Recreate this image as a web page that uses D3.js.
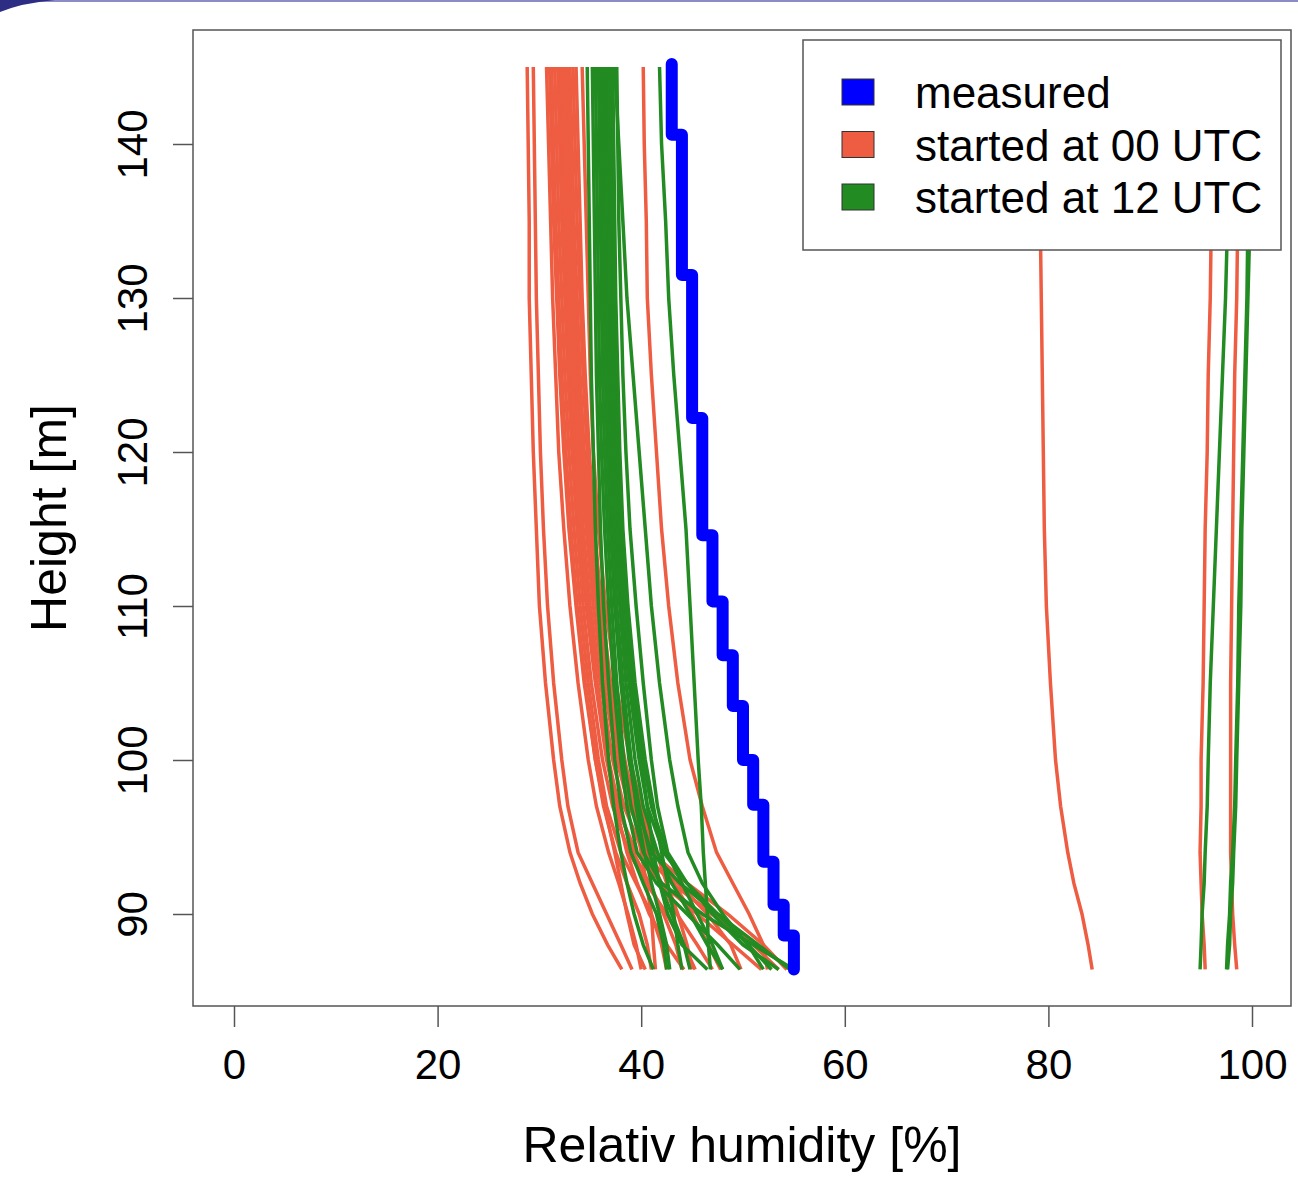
<!DOCTYPE html>
<head>
  <meta charset="utf-8">
  <script src="https://d3js.org/d3.v7.min.js"></script>
  <style>
    body { margin:0; background:#fff; }
    text { font-family: "Liberation Sans", Arial, sans-serif; }
  </style>
</head>
<body>
<script>
var levels = [145, 140, 135, 130, 125, 120, 115, 110, 105, 100, 97, 94, 92, 90, 88, 86.4];

// runs started at 00 UTC (relative humidity, %)
var redRuns = [
  [28.8, 28.9, 29.0, 29.0, 29.2, 29.4, 29.7, 30.0, 30.6, 31.4, 32.0, 33.0, 34.0, 35.2, 36.7, 38.1],
  [29.4, 29.5, 29.6, 29.7, 29.9, 30.1, 30.4, 30.8, 31.4, 32.2, 32.8, 33.8, 35.2, 36.6, 38.0, 39.1],
  [30.7, 30.9, 31.1, 31.3, 31.6, 31.9, 32.4, 33.0, 33.8, 34.8, 35.6, 36.8, 37.8, 38.7, 39.5, 40.0],
  [31.0, 31.2, 31.4, 31.7, 32.0, 32.4, 32.9, 33.6, 34.4, 35.5, 36.4, 37.4, 38.0, 38.6, 39.3, 40.4],
  [31.2, 31.4, 31.6, 31.9, 32.2, 32.6, 33.1, 33.7, 34.5, 35.5, 36.3, 37.5, 38.6, 39.8, 40.6, 41.0],
  [31.5, 31.7, 31.9, 32.2, 32.5, 32.9, 33.4, 34.0, 34.8, 35.8, 36.6, 38.0, 39.5, 41.0, 42.0, 42.5],
  [31.8, 32.0, 32.2, 32.5, 32.8, 33.2, 33.7, 34.3, 35.1, 36.2, 37.2, 38.8, 40.5, 42.5, 44.2, 45.3],
  [32.0, 32.2, 32.4, 32.7, 33.0, 33.4, 33.9, 34.6, 35.5, 36.6, 37.6, 39.5, 42.0, 45.5, 49.0, 51.8],
  [32.1, 32.3, 32.5, 32.8, 33.1, 33.5, 34.0, 34.7, 35.6, 36.7, 37.5, 38.6, 39.6, 40.8, 42.5, 44.2],
  [32.2, 32.4, 32.6, 32.9, 33.2, 33.6, 34.1, 34.8, 35.7, 36.8, 37.8, 39.2, 40.8, 42.2, 43.4, 44.0],
  [32.4, 32.6, 32.8, 33.1, 33.4, 33.8, 34.3, 35.0, 36.0, 37.2, 38.3, 40.2, 43.0, 47.0, 51.0, 53.5],
  [32.6, 32.8, 33.0, 33.3, 33.6, 34.0, 34.6, 35.3, 36.3, 37.6, 38.8, 41.0, 44.5, 48.5, 52.0, 54.3],
  [32.8, 33.0, 33.2, 33.5, 33.8, 34.2, 34.8, 35.6, 36.6, 37.9, 39.0, 40.6, 42.0, 43.5, 45.5, 47.0],
  [33.0, 33.2, 33.4, 33.7, 34.0, 34.4, 35.0, 35.8, 36.8, 38.1, 39.3, 41.2, 43.6, 46.5, 48.8, 49.8],
  [33.3, 33.5, 33.7, 34.0, 34.3, 34.7, 35.2, 35.9, 36.9, 38.3, 39.6, 41.5, 43.2, 45.0, 46.6, 47.8],
  [33.6, 33.8, 34.0, 34.2, 34.5, 34.9, 35.4, 36.1, 37.0, 38.4, 39.2, 40.0, 40.5, 41.0, 41.2, 41.4],
  [34.2, 34.4, 34.6, 34.8, 35.0, 35.3, 35.8, 36.5, 37.5, 38.9, 40.0, 41.5, 42.5, 43.6, 44.5, 45.0],
  [40.2, 40.3, 40.5, 40.6, 41.0, 41.5, 42.0, 42.7, 43.6, 44.8, 46.0, 47.4, 49.0, 50.6, 52.0, 52.4],
  [79.2, 79.2, 79.2, 79.3, 79.4, 79.5, 79.6, 79.8, 80.2, 80.7, 81.2, 81.9, 82.5, 83.3, 83.9, 84.3],
  [96.2, 96.1, 96.0, 95.9, 95.7, 95.6, 95.4, 95.3, 95.2, 95.0, 95.0, 94.9, 95.0, 95.1, 95.3, 95.4],
  [98.8, 98.7, 98.6, 98.5, 98.3, 98.2, 98.1, 98.0, 97.9, 97.9, 97.9, 97.9, 98.0, 98.1, 98.3, 98.5]
];

// runs started at 12 UTC
var greenRuns = [
  [34.7, 34.8, 34.9, 35.0, 35.1, 35.3, 35.5, 35.8, 36.2, 36.8, 37.3, 38.0, 38.6, 39.3, 40.2, 41.2],
  [35.2, 35.3, 35.4, 35.5, 35.6, 35.8, 36.0, 36.3, 36.8, 37.4, 38.0, 39.0, 40.2, 41.5, 42.2, 42.5],
  [35.5, 35.6, 35.7, 35.8, 35.9, 36.1, 36.4, 36.8, 37.3, 38.0, 38.6, 39.6, 41.5, 44.5, 47.5, 49.7],
  [35.8, 35.9, 36.0, 36.1, 36.2, 36.4, 36.7, 37.1, 37.6, 38.3, 39.0, 40.2, 42.0, 46.0, 51.0, 55.0],
  [36.0, 36.1, 36.2, 36.3, 36.5, 36.7, 37.0, 37.4, 38.0, 38.8, 39.6, 41.0, 43.8, 47.5, 51.5, 54.6],
  [36.0, 36.1, 36.2, 36.3, 36.5, 36.7, 37.0, 37.5, 38.1, 39.0, 39.5, 40.3, 41.0, 41.8, 42.5, 42.8],
  [36.2, 36.3, 36.4, 36.5, 36.7, 36.9, 37.2, 37.6, 38.2, 39.0, 39.8, 40.8, 41.8, 43.0, 44.2, 44.8],
  [36.4, 36.5, 36.6, 36.7, 36.9, 37.1, 37.4, 37.9, 38.5, 39.4, 40.2, 41.6, 43.0, 44.8, 46.5, 48.0],
  [36.6, 36.7, 36.8, 36.9, 37.1, 37.3, 37.6, 38.1, 38.8, 39.8, 40.6, 42.2, 44.5, 47.5, 50.5, 52.8],
  [36.8, 36.9, 37.0, 37.1, 37.3, 37.5, 37.8, 38.3, 39.0, 40.0, 40.6, 41.2, 41.8, 42.6, 44.0, 46.5],
  [37.0, 37.1, 37.2, 37.3, 37.5, 37.7, 38.0, 38.5, 39.2, 40.2, 41.0, 42.5, 44.0, 45.5, 47.0, 48.0],
  [37.2, 37.3, 37.4, 37.5, 37.7, 37.9, 38.2, 38.7, 39.4, 40.4, 41.2, 42.0, 42.6, 43.2, 43.6, 44.0],
  [37.4, 37.8, 38.2, 38.6, 39.2, 39.8, 40.4, 41.0, 41.8, 42.8, 43.6, 44.6, 46.0, 48.0, 50.5, 52.0],
  [37.6, 37.7, 37.8, 38.0, 38.2, 38.5, 38.9, 39.5, 40.2, 41.0, 41.6, 42.6, 44.5, 47.0, 50.0, 53.5],
  [41.8, 42.0, 42.4, 42.7, 43.2, 43.8, 44.4, 44.8, 45.2, 45.6, 45.9, 46.1, 46.3, 46.5, 46.6, 46.8],
  [98.0, 97.8, 97.6, 97.4, 97.1, 96.8, 96.5, 96.2, 95.9, 95.7, 95.6, 95.4, 95.3, 95.1, 95.0, 94.9],
  [100.0, 99.9, 99.8, 99.6, 99.4, 99.2, 99.0, 98.9, 98.7, 98.5, 98.4, 98.2, 98.1, 97.9, 97.8, 97.6],
  [99.8, 99.7, 99.6, 99.5, 99.3, 99.1, 98.9, 98.7, 98.6, 98.4, 98.3, 98.1, 97.9, 97.8, 97.6, 97.5]
];

// measured profile: humidity steps and the heights where they change
var measBreaks = [145.2, 140.6, 131.5, 122.2, 114.6, 110.3, 106.8, 103.5, 100.0, 97.1, 93.4, 90.6, 88.6, 86.4];
var measRH = [43, 44, 45, 46, 47, 48, 49, 50, 51, 52, 53, 54, 55];

var xTicks = [0, 20, 40, 60, 80, 100];
var yTicks = [90, 100, 110, 120, 130, 140];
var legendLabels = ["measured", "started at 00 UTC", "started at 12 UTC"];
var legendColors = ["#0000ff", "#ee5c42", "#228b22"];

var width = 1298, height = 1181;
var svg = d3.select("body").append("svg")
  .attr("width", width)
  .attr("height", height);

// slide decoration
svg.append("line").attr("x1", 0).attr("x2", width).attr("y1", 1).attr("y2", 1)
  .attr("stroke", "#8b8bc8").attr("stroke-width", 2);
svg.append("path").attr("d", "M0,0 L55,0 Q22,3 0,12 Z").attr("fill", "#2d2e83");

var x = d3.scaleLinear().domain([0, 100]).range([234, 1252]);
var y = d3.scaleLinear().domain([90, 140]).range([914, 144]);

var line = d3.line()
  .x(function(d) { return x(d[0]); })
  .y(function(d) { return y(d[1]); });

function runPoints(run) {
  return run.map(function(v, i) { return [v, levels[i]]; });
}

svg.append("g").selectAll("path")
  .data(redRuns).enter().append("path")
  .attr("d", function(d) { return line(runPoints(d)); })
  .attr("fill", "none").attr("stroke", legendColors[1]).attr("stroke-width", 3.5);

svg.append("g").selectAll("path")
  .data(greenRuns).enter().append("path")
  .attr("d", function(d) { return line(runPoints(d)); })
  .attr("fill", "none").attr("stroke", legendColors[2]).attr("stroke-width", 3.5);

// stepped measured profile
var measPts = [];
measRH.forEach(function(v, i) {
  measPts.push([v, measBreaks[i]]);
  measPts.push([v, measBreaks[i + 1]]);
});
svg.append("path")
  .attr("d", line(measPts))
  .attr("fill", "none").attr("stroke", legendColors[0])
  .attr("stroke-width", 12).attr("stroke-linecap", "round").attr("stroke-linejoin", "round");

// frame
svg.append("rect").attr("x", 193).attr("y", 30).attr("width", 1098).attr("height", 976)
  .attr("fill", "none").attr("stroke", "#555").attr("stroke-width", 1.5);

// x axis
var gx = svg.append("g").attr("transform", "translate(0,1006)")
  .call(d3.axisBottom(x).tickValues(xTicks).tickSize(21).tickPadding(22));
gx.select(".domain").remove();
gx.selectAll("line").attr("stroke", "#555").attr("stroke-width", 1.5);
gx.selectAll("text").attr("font-size", 42).attr("fill", "#000")
  .attr("font-family", "Liberation Sans, Arial, sans-serif");

// y axis
var gy = svg.append("g").attr("transform", "translate(193,0)")
  .call(d3.axisLeft(y).tickValues(yTicks).tickSize(20));
gy.select(".domain").remove();
gy.selectAll("line").attr("stroke", "#555").attr("stroke-width", 1.5);
gy.selectAll("text")
  .attr("x", null).attr("dy", null).attr("y", 0)
  .attr("text-anchor", "middle")
  .attr("transform", "translate(-46,0) rotate(-90)")
  .attr("font-size", 42).attr("fill", "#000")
  .attr("font-family", "Liberation Sans, Arial, sans-serif");

// axis titles
svg.append("text").attr("x", 742).attr("y", 1162)
  .attr("text-anchor", "middle").attr("font-size", 50)
  .text("Relativ humidity [%]");
svg.append("text").attr("transform", "translate(66,518) rotate(-90)")
  .attr("text-anchor", "middle").attr("font-size", 50)
  .text("Height [m]");

// legend
var leg = svg.append("g");
leg.append("rect").attr("x", 803).attr("y", 40).attr("width", 478).attr("height", 210)
  .attr("fill", "#fff").attr("stroke", "#555").attr("stroke-width", 1.5);
var items = leg.selectAll("g.item").data(legendLabels).enter().append("g")
  .attr("transform", function(d, i) { return "translate(0," + (i * 52.5) + ")"; });
items.append("rect").attr("x", 842).attr("y", 79).attr("width", 32).attr("height", 26)
  .attr("fill", function(d, i) { return legendColors[i]; })
  .attr("stroke", "#333").attr("stroke-width", 1);
items.append("text").attr("x", 915).attr("y", 108).attr("font-size", 44)
  .text(function(d) { return d; });
</script>
</body>
